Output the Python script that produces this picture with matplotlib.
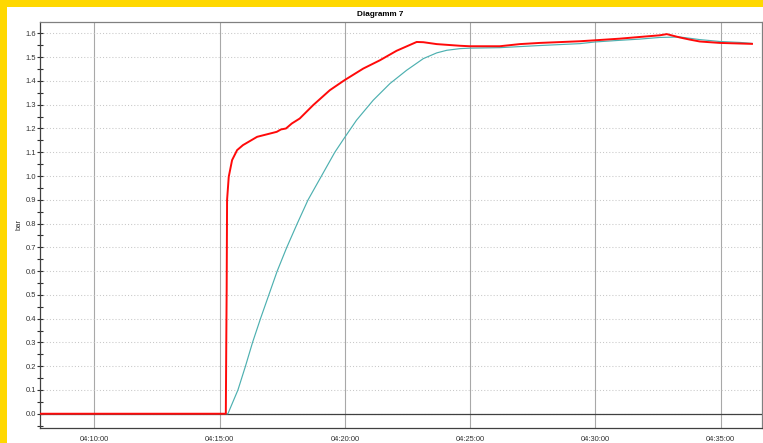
import matplotlib
matplotlib.use("Agg")
import matplotlib.pyplot as plt
import matplotlib.dates as mdates
import pandas as pd
from matplotlib.ticker import MultipleLocator
from matplotlib.patches import Rectangle

# ---- data ----
red_times = ["04:07:50", "04:15:15", "04:15:16", "04:15:17", "04:15:18", "04:15:22",
             "04:15:30", "04:15:42", "04:15:56", "04:16:30", "04:17:17", "04:17:27",
             "04:17:39", "04:17:53", "04:18:12", "04:18:44", "04:19:24", "04:19:59",
             "04:20:44", "04:21:24", "04:22:04", "04:22:52", "04:23:08", "04:23:40",
             "04:24:36", "04:24:59", "04:26:11", "04:26:59",
             "04:27:47", "04:29:23", "04:29:59", "04:30:59", "04:31:46", "04:32:34",
             "04:32:51", "04:33:22", "04:33:46", "04:34:10", "04:34:58", "04:36:15"]
red_values = [0.0, 0.0, 0.28, 0.52, 0.90, 0.997,
              1.067, 1.109, 1.13, 1.165, 1.186, 1.196,
              1.2, 1.221, 1.242, 1.298, 1.361, 1.403,
              1.452, 1.487, 1.527, 1.564, 1.563, 1.555,
              1.548, 1.546, 1.546, 1.555,
              1.56, 1.567, 1.571, 1.578, 1.585, 1.592,
              1.597, 1.583, 1.574, 1.566, 1.56, 1.556]

teal_times = ["04:07:50", "04:15:20", "04:15:44", "04:16:02", "04:16:19", "04:16:38",
              "04:16:58", "04:17:18", "04:17:41", "04:18:06", "04:18:32", "04:19:04",
              "04:19:36", "04:19:58", "04:20:28", "04:21:08", "04:21:48", "04:22:28",
              "04:23:08", "04:23:40", "04:24:04", "04:24:36", "04:24:59", "04:26:11",
              "04:27:47", "04:29:23", "04:29:59", "04:30:59", "04:31:46", "04:32:34",
              "04:33:22", "04:34:10", "04:34:58", "04:35:46", "04:36:15"]
teal_values = [0.0, 0.0, 0.1, 0.2, 0.3, 0.4,
               0.5, 0.6, 0.7, 0.8, 0.9, 1.0,
               1.1, 1.158, 1.235, 1.319, 1.389, 1.445,
               1.494, 1.518, 1.529, 1.536, 1.538, 1.54,
               1.549, 1.557, 1.564, 1.571, 1.576, 1.583,
               1.585, 1.574, 1.566, 1.562, 1.558]

x_start, x_end = "04:07:50", "04:36:39"
title = "Diagramm 7"
ylabel = "bar"

def to_dt(ts):
    return pd.to_datetime(["2000-01-01 " + t for t in ts])

plt.rcParams['font.family'] = ['Liberation Sans', 'DejaVu Sans']

fig = plt.figure(figsize=(7.63, 4.43), dpi=100, facecolor='#FFD800')
fig.patches.append(Rectangle((7 / 763, 0), 1, 1 - 7 / 443, transform=fig.transFigure,
                             facecolor='white', edgecolor='none', zorder=-10))

ax = fig.add_axes([40 / 763, 1 - 428 / 443, 722 / 763, 406 / 443])
ax.set_zorder(5)
ax.set_facecolor('white')

ax.plot(to_dt(teal_times), teal_values, color='#4DB0B0', lw=0.85, zorder=4)
ax.plot(to_dt(red_times), red_values, color='#FF0A0A', lw=1.4, zorder=5)

ax.set_xlim(to_dt([x_start])[0], to_dt([x_end])[0])
ax.set_ylim(-0.06, 1.648)

ax.axhline(0, color='#404040', lw=0.9, zorder=3)

ax.yaxis.set_major_locator(MultipleLocator(0.1))
ax.yaxis.set_minor_locator(MultipleLocator(0.05))
ax.yaxis.set_major_formatter(plt.FuncFormatter(lambda v, p: f"{v:.1f}"))
ax.xaxis.set_major_locator(mdates.MinuteLocator(byminute=range(0, 60, 5)))
ax.xaxis.set_major_formatter(mdates.DateFormatter("%H:%M:%S"))

ax.grid(axis='x', color='#A8A8A8', lw=0.8, ls='-', zorder=1)
ax.grid(axis='y', which='major', color='#C8C8C8', lw=0.75, ls=(0, (1, 2)), zorder=1)

ax.tick_params(axis='y', which='both', direction='inout', length=4, width=0.8,
               color='#303030', labelsize=5.4, labelcolor='#303030', pad=1)
ax.tick_params(axis='x', which='both', length=0, labelsize=5.4, labelcolor='#303030', pad=6)

for s in ['left', 'bottom']:
    ax.spines[s].set_color('#404040')
    ax.spines[s].set_linewidth(0.9)
for s in ['top', 'right']:
    ax.spines[s].set_color('#808080')
    ax.spines[s].set_linewidth(0.9)

fig.text(380 / 763, 1 - 14 / 443, title, ha='center', va='center',
         fontsize=5.9, fontweight='bold', color='black')
fig.text(19 / 763, 1 - 225 / 443, ylabel, ha='center', va='center', rotation=90,
         fontsize=5.4, color='#303030')

fig.savefig("out.png", dpi=100, facecolor=fig.get_facecolor())
